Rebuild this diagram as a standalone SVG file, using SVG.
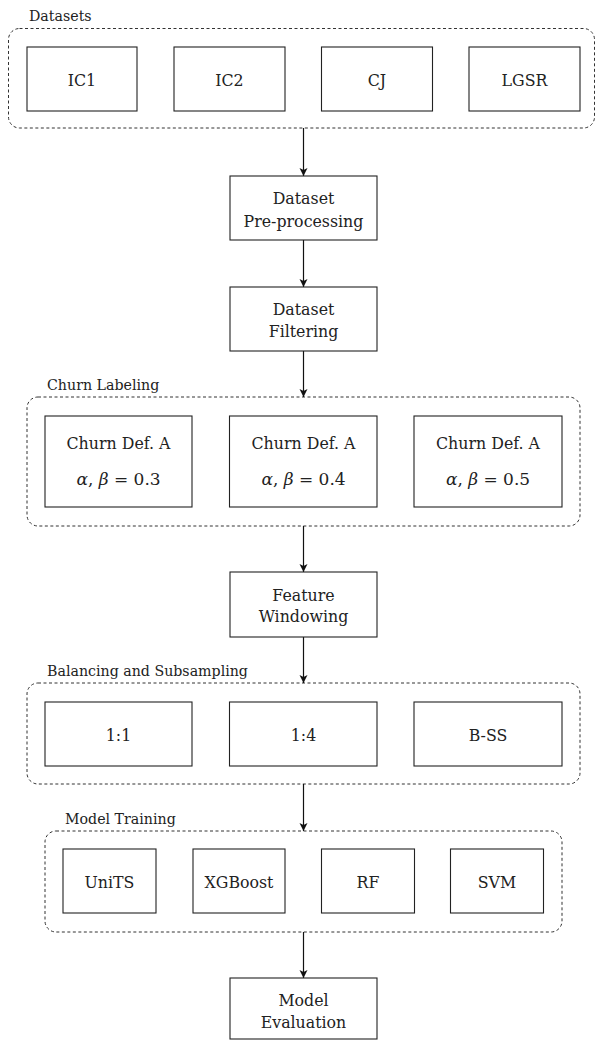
<svg xmlns="http://www.w3.org/2000/svg" width="597" height="1040" viewBox="0 0 597 1040">
  <style>
    .grp { fill: none; stroke: #333; stroke-width: 1; stroke-dasharray: 3 2.5; }
    .box { fill: #fff; stroke: #222; stroke-width: 1.1; }
    .lbl { font-family: "DejaVu Serif", "Liberation Serif", serif; font-size: 14.2px; fill: #222; }
    .t { font-family: "DejaVu Serif", "Liberation Serif", serif; font-size: 15.8px; fill: #222; text-anchor: middle; }
    .m { font-family: "DejaVu Serif", "Liberation Serif", serif; font-size: 17px; fill: #222; text-anchor: middle; }
    .it { font-style: italic; }
    .conn { stroke: #111; stroke-width: 1.2; fill: none; marker-end: url(#arr); }
  </style>
  <defs>
    <marker id="arr" markerUnits="userSpaceOnUse" markerWidth="10" markerHeight="10" refX="8" refY="4" orient="auto">
      <path d="M0,0 L8,4 L0,8 L2,4 Z" fill="#111"/>
    </marker>
  </defs>
  <rect width="597" height="1040" fill="#fff"/>

  <!-- Groups -->
  <g id="group-datasets">
    <rect class="grp" x="8.5" y="28.5" width="586" height="99.5" rx="11"/>
    <text class="lbl" x="29" y="21">Datasets</text>
  </g>
  <g id="group-churn">
    <rect class="grp" x="27" y="397" width="553" height="129" rx="11"/>
    <text class="lbl" x="47" y="390">Churn Labeling</text>
  </g>
  <g id="group-balancing">
    <rect class="grp" x="27" y="683" width="553" height="101" rx="11"/>
    <text class="lbl" x="47" y="676">Balancing and Subsampling</text>
  </g>
  <g id="group-training">
    <rect class="grp" x="45" y="831" width="517" height="101" rx="11"/>
    <text class="lbl" x="65" y="824">Model Training</text>
  </g>

  <!-- Connectors -->
  <g id="connectors">
    <line class="conn" x1="303.5" y1="128" x2="303.5" y2="176"/>
    <line class="conn" x1="303.5" y1="240" x2="303.5" y2="287"/>
    <line class="conn" x1="303.5" y1="351" x2="303.5" y2="397"/>
    <line class="conn" x1="303.5" y1="526" x2="303.5" y2="572"/>
    <line class="conn" x1="303.5" y1="637" x2="303.5" y2="683"/>
    <line class="conn" x1="303.5" y1="784" x2="303.5" y2="831"/>
    <line class="conn" x1="303.5" y1="932" x2="303.5" y2="978"/>
  </g>

  <!-- Dataset nodes -->
  <g id="ic1"><rect class="box" x="27" y="47" width="110" height="64"/><text class="t" x="82" y="86">IC1</text></g>
  <g id="ic2"><rect class="box" x="174" y="47" width="111" height="64"/><text class="t" x="229.5" y="86">IC2</text></g>
  <g id="cj"><rect class="box" x="321.5" y="47" width="111" height="64"/><text class="t" x="377" y="86">CJ</text></g>
  <g id="lgsr"><rect class="box" x="469" y="47" width="111" height="64"/><text class="t" x="524.5" y="86">LGSR</text></g>

  <g id="preprocessing"><rect class="box" x="230" y="176" width="147" height="64"/>
    <text class="t" x="303.5" y="204">Dataset</text><text class="t" x="303.5" y="227">Pre-processing</text></g>
  <g id="filtering"><rect class="box" x="230" y="287" width="147" height="64"/>
    <text class="t" x="303.5" y="315">Dataset</text><text class="t" x="303.5" y="337">Filtering</text></g>

  <!-- Churn nodes -->
  <g id="churn-03"><rect class="box" x="45" y="416" width="147" height="91"/>
    <text class="t" x="118.5" y="449">Churn Def. A</text>
    <text class="m" x="118.5" y="485"><tspan class="it">α</tspan>, <tspan class="it">β</tspan> = 0.3</text></g>
  <g id="churn-04"><rect class="box" x="229.5" y="416" width="147.5" height="91"/>
    <text class="t" x="303.5" y="449">Churn Def. A</text>
    <text class="m" x="303.5" y="485"><tspan class="it">α</tspan>, <tspan class="it">β</tspan> = 0.4</text></g>
  <g id="churn-05"><rect class="box" x="414" y="416" width="148" height="91"/>
    <text class="t" x="488" y="449">Churn Def. A</text>
    <text class="m" x="488" y="485"><tspan class="it">α</tspan>, <tspan class="it">β</tspan> = 0.5</text></g>

  <g id="windowing"><rect class="box" x="230" y="572" width="147" height="65"/>
    <text class="t" x="303.5" y="601">Feature</text><text class="t" x="303.5" y="622">Windowing</text></g>

  <!-- Balancing nodes -->
  <g id="bal-11"><rect class="box" x="45" y="702" width="147" height="64"/><text class="t" x="118.5" y="741">1:1</text></g>
  <g id="bal-14"><rect class="box" x="229.5" y="702" width="147.5" height="64"/><text class="t" x="303.5" y="741">1:4</text></g>
  <g id="bal-bss"><rect class="box" x="414" y="702" width="148" height="64"/><text class="t" x="488" y="741">B-SS</text></g>

  <!-- Model nodes -->
  <g id="units"><rect class="box" x="63" y="849" width="93" height="64"/><text class="t" x="109.5" y="888">UniTS</text></g>
  <g id="xgboost"><rect class="box" x="193" y="849" width="92" height="64"/><text class="t" x="239" y="888">XGBoost</text></g>
  <g id="rf"><rect class="box" x="321.5" y="849" width="93" height="64"/><text class="t" x="368" y="888">RF</text></g>
  <g id="svm"><rect class="box" x="450.5" y="849" width="93" height="64"/><text class="t" x="497" y="888">SVM</text></g>

  <g id="evaluation"><rect class="box" x="230" y="978" width="147" height="61"/>
    <text class="t" x="303.5" y="1006">Model</text><text class="t" x="303.5" y="1028">Evaluation</text></g>
</svg>
